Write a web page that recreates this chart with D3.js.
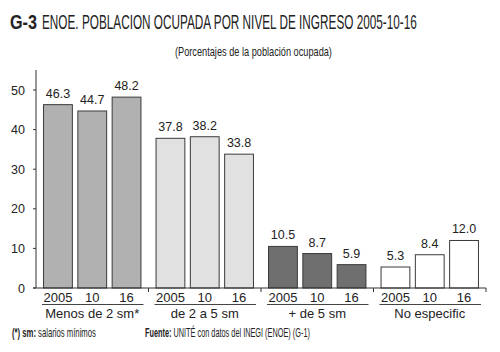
<!DOCTYPE html>
<html lang="es">
<meta charset="utf-8">
<head>
<script src="https://d3js.org/d3.v7.min.js"></script>
<style>
  body { margin: 0; background: #fff; }
  text { font-family: "Liberation Sans", Arial, sans-serif; fill: #222; }
</style>
</head>
<body>
<div id="chart"></div>
<script>
// categories and series
const groups = ["Menos de 2 sm*", "de 2 a 5 sm", "+ de 5 sm", "No especific"];
const years = ["2005", "10", "16"];
const values = [
  [46.3, 44.7, 48.2],
  [37.8, 38.2, 33.8],
  [10.5, 8.7, 5.9],
  [5.3, 8.4, 12.0]
];
const yTicks = [0, 10, 20, 30, 40, 50];
const fills = ["#b1b1b1", "#e1e1e1", "#6f6f6f", "#ffffff"];

const width = 500, height = 352;
const margin = {left: 36, right: 14, top: 70, bottom: 64};

const svg = d3.select("#chart").append("svg")
  .attr("width", width)
  .attr("height", height);

// condensed text: draw normally, then squeeze horizontally to a target width
function narrowText(x, y, w, size, parts) {
  const grp = svg.append("g");
  const t = grp.append("text").attr("font-size", size);
  parts.forEach(p => {
    t.append("tspan").attr("font-weight", p.bold ? "bold" : "normal").text(p.s);
  });
  const len = t.node().getComputedTextLength();
  grp.attr("transform", `translate(${x},${y}) scale(${w / len},1)`);
  return grp;
}

// titles
narrowText(10, 29, 27, 20, [{s: "G-3", bold: true}]);
narrowText(42, 29, 375, 20, [{s: "ENOE. POBLACION OCUPADA POR NIVEL DE INGRESO 2005-10-16"}]);
narrowText(175, 56, 157, 13.5, [{s: "(Porcentajes de la población ocupada)"}]);

// scales
const x0 = d3.scaleBand()
  .domain(groups)
  .range([margin.left, width - margin.right]);

const x1 = d3.scaleBand()
  .domain(years)
  .range([0, x0.bandwidth()])
  .paddingInner(0.16)
  .paddingOuter(0.22);

const y = d3.scaleLinear()
  .domain([0, 50])
  .range([288, 90]);

// y axis
svg.append("line")
  .attr("x1", margin.left).attr("x2", margin.left)
  .attr("y1", margin.top).attr("y2", y(0))
  .attr("stroke", "#333").attr("stroke-width", 1);

const yg = svg.selectAll(".ytick").data(yTicks).join("g")
  .attr("transform", d => `translate(0,${y(d)})`);
yg.append("line")
  .attr("x1", margin.left - 3).attr("x2", margin.left)
  .attr("stroke", "#333");
yg.append("text")
  .attr("x", 25).attr("dy", "0.36em")
  .attr("text-anchor", "end")
  .attr("font-size", 12.5)
  .text(d => d);

// bars
const g = svg.selectAll(".group").data(groups).join("g")
  .attr("transform", d => `translate(${x0(d)},0)`);

g.selectAll("rect")
  .data((d, i) => values[i].map((v, j) => ({year: years[j], v: v, gi: i})))
  .join("rect")
  .attr("x", d => x1(d.year))
  .attr("y", d => y(d.v))
  .attr("width", x1.bandwidth())
  .attr("height", d => y(0) - y(d.v))
  .attr("fill", d => fills[d.gi])
  .attr("stroke", "#3a3a3a")
  .attr("stroke-width", 1);

g.selectAll(".val")
  .data((d, i) => values[i].map((v, j) => ({year: years[j], v: v})))
  .join("text")
  .attr("x", d => x1(d.year) + x1.bandwidth() / 2)
  .attr("y", d => y(d.v) - 7)
  .attr("text-anchor", "middle")
  .attr("font-size", 12.5)
  .text(d => d.v.toFixed(1));

// x axis baseline
svg.append("line")
  .attr("x1", margin.left - 3).attr("x2", width - margin.right)
  .attr("y1", y(0)).attr("y2", y(0))
  .attr("stroke", "#333");

svg.selectAll(".xsep").data(groups).join("line")
  .attr("x1", d => x0(d) + x0.bandwidth())
  .attr("x2", d => x0(d) + x0.bandwidth())
  .attr("y1", y(0)).attr("y2", y(0) + 4)
  .attr("stroke", "#333");

// year labels
g.selectAll(".yr").data(years).join("text")
  .attr("x", d => x1(d) + x1.bandwidth() / 2)
  .attr("y", 302)
  .attr("text-anchor", "middle")
  .attr("font-size", 13)
  .text(d => d);

g.append("line")
  .attr("x1", 6).attr("x2", x0.bandwidth() - 5)
  .attr("y1", 304.5).attr("y2", 304.5)
  .attr("stroke", "#444").attr("stroke-width", 1.2);

g.append("text")
  .attr("x", x0.bandwidth() / 2)
  .attr("y", 318)
  .attr("text-anchor", "middle")
  .attr("font-size", 13)
  .text(d => d);

// footer
narrowText(12, 337, 84, 12, [{s: "(*) sm:", bold: true}, {s: " salarios mínimos"}]);
narrowText(145, 337, 165, 12, [{s: "Fuente:", bold: true}, {s: " UNITÉ con datos del INEGI (ENOE) (G-1)"}]);
</script>
</body>
</html>
